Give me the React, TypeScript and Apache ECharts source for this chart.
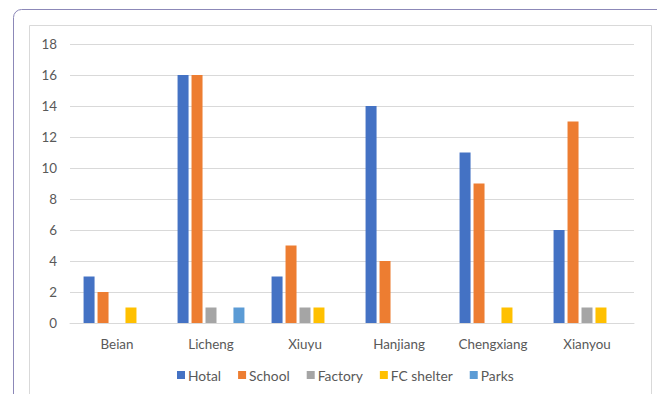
import React, { useEffect, useRef } from "react";
import * as echarts from "echarts";

const categories = ["Beian", "Licheng", "Xiuyu", "Hanjiang", "Chengxiang", "Xianyou"];
const hotal = [3, 16, 3, 14, 11, 6];
const school = [2, 16, 5, 4, 9, 13];
const factory = [0, 1, 1, 0, 0, 1];
const fcShelter = [1, 0, 1, 0, 1, 1];
const parks = [0, 1, 0, 0, 0, 0];

const seriesNames = ["Hotal", "School", "Factory", "FC shelter", "Parks"];
const seriesData = [hotal, school, factory, fcShelter, parks];
const colors = ["#4472C4", "#ED7D31", "#A5A5A5", "#FFC000", "#5B9BD5"];

export default function App() {
  const ref = useRef<HTMLDivElement>(null);
  useEffect(() => {
    const chart = echarts.init(ref.current!, null, { renderer: "svg" });
    const font = "Lato, 'Open Sans', sans-serif";
    chart.setOption({
      animation: false,
      backgroundColor: "#ffffff",
      color: colors,
      graphic: [
        {
          type: "rect",
          shape: { x: 13.5, y: 9.5, width: 700, height: 450, r: 8 },
          style: { fill: "none", stroke: "#8C88B8", lineWidth: 1 },
          silent: true,
        },
        {
          type: "rect",
          shape: { x: 29.5, y: 25.5, width: 622, height: 420 },
          style: { fill: "none", stroke: "#D9D9D9", lineWidth: 1 },
          silent: true,
        },
      ],
      grid: { left: 70, right: 23, top: 44, bottom: 71, containLabel: false },
      legend: {
        data: seriesNames,
        bottom: 7,
        left: 172,
        icon: "rect",
        itemWidth: 8,
        itemHeight: 8,
        itemGap: 17,
        textStyle: { color: "#595959", fontSize: 13.8, fontFamily: font, padding: [0, 0, 0, -2] },
      },
      xAxis: {
        type: "category",
        data: categories,
        axisLine: { lineStyle: { color: "#D9D9D9" } },
        axisTick: { show: false },
        axisLabel: { color: "#595959", fontSize: 13.4, fontFamily: font, margin: 14 },
      },
      yAxis: {
        type: "value",
        min: 0,
        max: 18,
        interval: 2,
        axisLine: { show: false },
        axisTick: { show: false },
        axisLabel: { color: "#595959", fontSize: 13.4, fontFamily: font, margin: 13 },
        splitLine: { lineStyle: { color: "#D9D9D9" } },
      },
      series: seriesNames.map((name, i) => ({
        name,
        type: "bar",
        data: seriesData[i],
        barWidth: 11,
        barGap: "27%",
        itemStyle: { color: colors[i] },
      })),
    });
    return () => chart.dispose();
  }, []);
  return (
    <div
      ref={ref}
      style={{ position: "fixed", left: 0, top: 0, width: 657, height: 394 }}
    />
  );
}
